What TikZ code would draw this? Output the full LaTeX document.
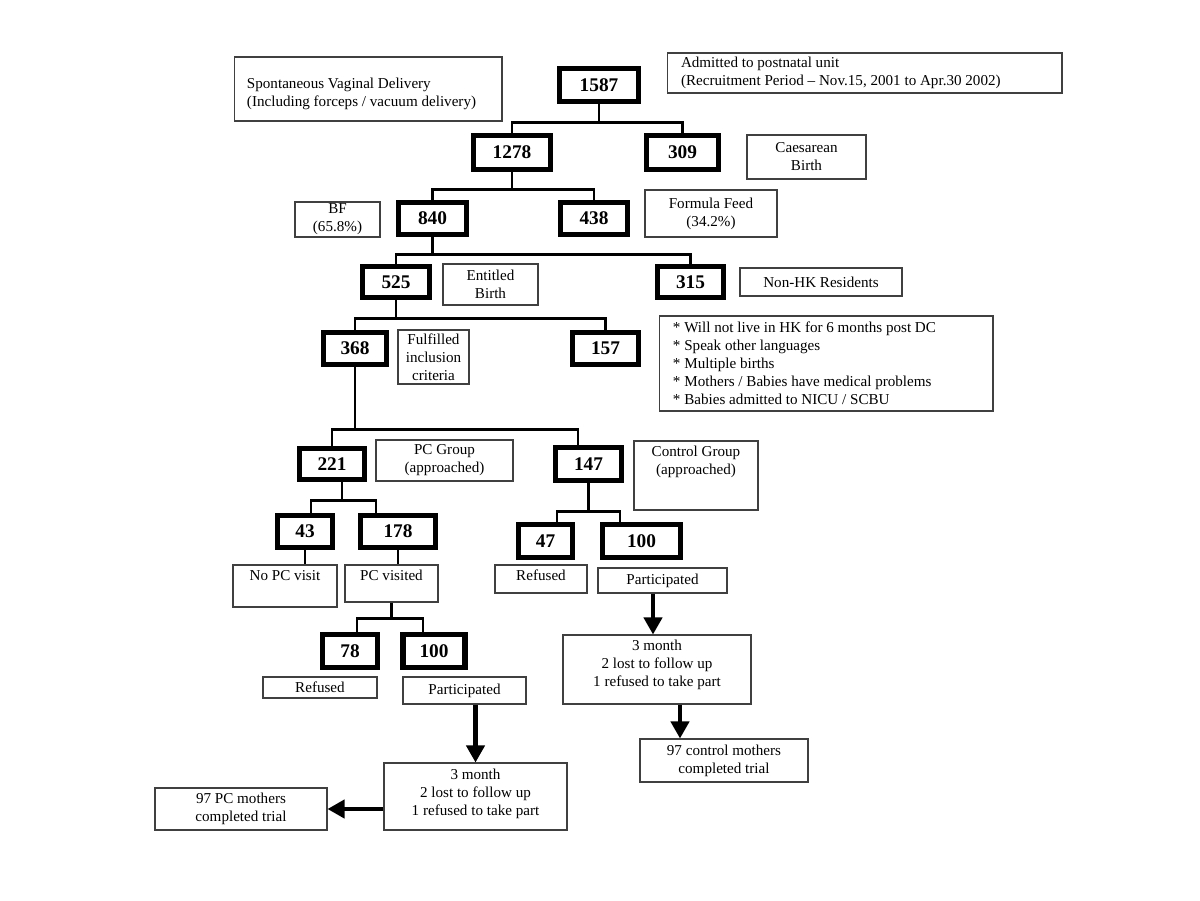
\documentclass[tikz,border=0pt]{standalone}
\usepackage{fontspec}
\setmainfont{Liberation Serif}
\usetikzlibrary{
	arrows.meta,
	positioning,
}
\tikzset{countbox/.style={
		% The shape:
		rectangle,
		% The border:
		draw=black,line width=3pt,
		inner sep=0pt,
		% The numbers:
		font=\fontsize{11}{13}\selectfont\bfseries,
}}
\tikzset{notebox/.style={
		% The shape:
		rectangle,
		% The border:
		draw=black!75,line width=0.6pt,
		inner sep=0pt,align=center,
}}
\tikzset{toptext/.style={inner sep=1.5pt,align=center}}
\tikzset{link/.style={line width=1.5pt}}
\tikzset{stub/.style={line width=1pt}}
\tikzset{flow/.style={line width=2.3pt,-{Triangle[length=0.34cm,width=0.36cm]}}}

\begin{document}
\begin{tikzpicture}[x=0.02cm,y=-0.02cm,font=\fontsize{8.6}{10.2}\selectfont]
	\useasboundingbox (0,0) rectangle (1200,900);
	% the counts
	\node [countbox,minimum width=1.58cm,minimum height=0.66cm] (n1587) at (599,85) {1587};
	\node [countbox,minimum width=1.54cm,minimum height=0.68cm] (n1278) at (512,152.5) {1278};
	\node [countbox,minimum width=1.44cm,minimum height=0.68cm] (n309) at (682.5,152.5) {309};
	\node [countbox,minimum width=1.36cm,minimum height=0.64cm] (n840) at (432.5,218.5) {840};
	\node [countbox,minimum width=1.34cm,minimum height=0.64cm] (n438) at (594,218.5) {438};
	\node [countbox,minimum width=1.34cm,minimum height=0.62cm] (n525) at (396,282) {525};
	\node [countbox,minimum width=1.32cm,minimum height=0.62cm] (n315) at (690.5,282) {315};
	\node [countbox,minimum width=1.26cm,minimum height=0.64cm] (n368) at (355,348.5) {368};
	\node [countbox,minimum width=1.32cm,minimum height=0.64cm] (n157) at (605.5,348.5) {157};
	\node [countbox,minimum width=1.30cm,minimum height=0.62cm] (n221) at (332,464) {221};
	\node [countbox,minimum width=1.32cm,minimum height=0.66cm] (n147) at (588.5,464) {147};
	\node [countbox,minimum width=1.10cm,minimum height=0.64cm] (n43) at (305,531.5) {43};
	\node [countbox,minimum width=1.50cm,minimum height=0.64cm] (n178) at (398,531.5) {178};
	\node [countbox,minimum width=1.08cm,minimum height=0.66cm] (n47) at (545.5,541) {47};
	\node [countbox,minimum width=1.56cm,minimum height=0.66cm] (n100c) at (641.5,541) {100};
	\node [countbox,minimum width=1.10cm,minimum height=0.66cm] (n78) at (350,651) {78};
	\node [countbox,minimum width=1.24cm,minimum height=0.66cm] (n100p) at (434,651) {100};
	% the notes
	\node [notebox,minimum width=5.36cm,minimum height=1.28cm] (svd) at (368,89) {};
	\node [toptext,align=left,below right=0.37cm and 0.21cm of svd.north west] (svdt) {Spontaneous Vaginal Delivery\\(Including forceps / vacuum delivery)};
	\node [notebox,minimum width=7.9cm,minimum height=0.8cm] (adm) at (864.5,73) {};
	\node [toptext,align=left,right=0.23cm of adm.west] (admt) {Admitted to postnatal unit\\(Recruitment Period -- Nov.15, 2001 to Apr.30 2002)};
	\node [notebox,minimum width=2.38cm,minimum height=0.88cm] (caes) at (806.5,157) {Caesarean\\Birth};
	\node [notebox,minimum width=1.70cm,minimum height=0.70cm] (bf) at (337.5,219.5) {BF\\(65.8\%)};
	\node [notebox,minimum width=2.64cm,minimum height=0.94cm] (ff) at (711,213.5) {Formula Feed\\(34.2\%)};
	\node [notebox,minimum width=1.90cm,minimum height=0.82cm] (ent) at (490.5,284.5) {Entitled\\Birth};
	\node [notebox,minimum width=3.24cm,minimum height=0.56cm] (nonhk) at (821,282) {Non-HK Residents};
	\node [notebox,minimum width=6.68cm,minimum height=1.9cm] (excl) at (826,363.5) {};
	\node [toptext,align=left,right=0.23cm of excl.west] (exclt) {{*} Will not live in HK for 6 months post DC\\{*} Speak other languages\\{*} Multiple births\\{*} Mothers / Babies have medical problems\\{*} Babies admitted to NICU / SCBU};
	\node [notebox,minimum width=1.42cm,minimum height=1.08cm] (ful) at (433.5,357) {Fulfilled\\inclusion\\criteria};
	\node [notebox,minimum width=2.74cm,minimum height=0.82cm] (pcg) at (444.5,460.5) {PC Group\\(approached)};
	\node [notebox,minimum width=2.48cm,minimum height=1.38cm] (ctg) at (696,475.5) {};
	\node [toptext,below=1.5pt of ctg.north] (ctgt) {Control Group\\(approached)};
	\node [notebox,minimum width=2.08cm,minimum height=0.84cm] (nopc) at (285,586) {};
	\node [toptext,below=1.5pt of nopc.north] (nopct) {No PC visit};
	\node [notebox,minimum width=1.86cm,minimum height=0.74cm] (pcv) at (391.5,583.5) {};
	\node [toptext,below=1.5pt of pcv.north] (pcvt) {PC visited};
	\node [notebox,minimum width=1.84cm,minimum height=0.56cm] (ref1) at (541,579) {};
	\node [toptext,below=1.5pt of ref1.north] (ref1t) {Refused};
	\node [notebox,minimum width=2.58cm,minimum height=0.50cm] (par1) at (662.5,580.5) {Participated};
	\node [notebox,minimum width=2.28cm,minimum height=0.42cm] (ref2) at (320,687.5) {Refused};
	\node [notebox,minimum width=2.46cm,minimum height=0.54cm] (par2) at (464.5,690.5) {Participated};
	\node [notebox,minimum width=3.76cm,minimum height=1.38cm] (m3c) at (657,669.5) {};
	\node [toptext,below=1.5pt of m3c.north] (m3ct) {3 month\\2 lost to follow up\\1 refused to take part};
	\node [notebox,minimum width=3.36cm,minimum height=0.86cm] (endc) at (724,760.5) {97 control mothers\\completed trial};
	\node [notebox,minimum width=3.66cm,minimum height=1.34cm] (m3p) at (475.5,796.5) {};
	\node [toptext,below=2pt of m3p.north] (m3pt) {3 month\\2 lost to follow up\\1 refused to take part};
	\node [notebox,minimum width=3.44cm,minimum height=0.84cm] (endp) at (241,809) {97 PC mothers\\completed trial};
	% the tree
	\draw [link] (n1587.south) -- ++(0,18.5) coordinate (j1) -| (n1278.north);
	\draw [link] (j1) -| (n309.north);
	\draw [link] (n1278.south) -- ++(0,17.5) coordinate (j2) -| (n840.north);
	\draw [link] (j2) -| (n438.north);
	\draw [link] (n840.south) -- ++(0,17.5) coordinate (j3) -| (n525.north);
	\draw [link] (j3) -| (n315.north);
	\draw [link] (n525.south) -- ++(0,18.5) coordinate (j4) -| (n368.north);
	\draw [link] (j4) -| (n157.north);
	\draw [link] (n368.south) -- ++(0,62.5) coordinate (j5) -| (n221.north);
	\draw [link] (j5) -| ([xshift=-0.21cm]n147.north);
	\draw [link] ([xshift=0.2cm]n221.south) -- ++(0,18.5) coordinate (j6) -| ([xshift=0.12cm]n43.north);
	\draw [link] (j6) -| ([xshift=-0.44cm]n178.north);
	\draw [link] (n147.south) -- ++(0,28.5) coordinate (j7) -| ([xshift=0.23cm]n47.north);
	\draw [link] (j7) -| ([xshift=-0.43cm]n100c.north);
	\draw [link] (pcv.south) -- ++(0,16) coordinate (j8) -| ([xshift=0.14cm]n78.north);
	\draw [link] (j8) -| ([xshift=-0.22cm]n100p.north);
	\draw [stub] (n43.south) -- (n43.south |- nopc.north);
	\draw [stub] (n178.south) -- (n178.south |- pcv.north);
	% the follow up
	\path ([xshift=-0.08cm]m3c.north) coordinate (a1);
	\path ([xshift=0.46cm]m3c.south) coordinate (a2);
	\draw [flow] (a1 |- par1.south) -- (a1);
	\draw [flow] (a2) -- (a2 |- endc.north);
	\draw [flow] (m3p.north |- par2.south) -- (m3p.north);
	\draw [flow] (endp.east -| m3p.west) -- (endp.east);
\end{tikzpicture}
\end{document}
